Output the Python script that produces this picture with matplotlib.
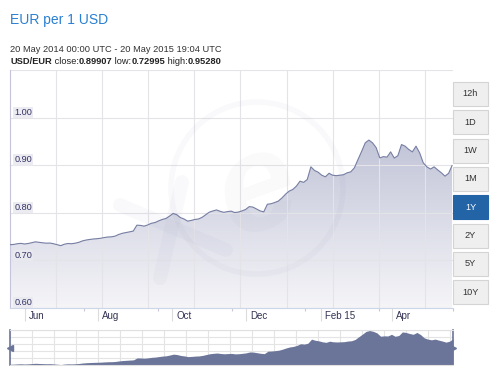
import numpy as np
import pandas as pd
import matplotlib
matplotlib.use('Agg')
import matplotlib.pyplot as plt
import matplotlib.dates as mdates
from matplotlib.colors import LinearSegmentedColormap
from matplotlib.patches import Rectangle, Circle

plt.rcParams['font.family'] = ['Liberation Sans', 'DejaVu Sans']

# USD/EUR rate, read every 3 days from 20 May 2014, last point is the close
rate = [0.7330, 0.7335, 0.7350, 0.7358, 0.7345, 0.7355, 0.7372, 0.7390, 0.7380, 0.7370,
        0.7362, 0.7365, 0.7350, 0.7330, 0.7310, 0.7340, 0.7355, 0.7350, 0.7362, 0.7380,
        0.7410, 0.7428, 0.7440, 0.7450, 0.7456, 0.7465, 0.7480, 0.7492, 0.7495, 0.7510,
        0.7545, 0.7570, 0.7585, 0.7600, 0.7616, 0.7740, 0.7735, 0.7720, 0.7745, 0.7780,
        0.7795, 0.7830, 0.7860, 0.7880, 0.7930, 0.7986, 0.7960, 0.7900, 0.7870, 0.7825,
        0.7840, 0.7860, 0.7870, 0.7905, 0.7960, 0.8014, 0.8040, 0.8060, 0.8030, 0.8010,
        0.8025, 0.8035, 0.8005, 0.8015, 0.8040, 0.8070, 0.8130, 0.8120, 0.8080, 0.8040,
        0.8020, 0.8180, 0.8190, 0.8215, 0.8245, 0.8310, 0.8390, 0.8455, 0.8490, 0.8560,
        0.8664, 0.8640, 0.8700, 0.8965, 0.8890, 0.8853, 0.8790, 0.8756, 0.8830, 0.8790,
        0.8780, 0.8790, 0.8800, 0.8840, 0.8860, 0.8945, 0.9120, 0.9290, 0.9470, 0.9528,
        0.9470, 0.9370, 0.9154, 0.9180, 0.9170, 0.9280, 0.9150, 0.9200, 0.9434, 0.9400,
        0.9330, 0.9280, 0.9400, 0.9260, 0.9050, 0.8965, 0.8920, 0.8965, 0.8900, 0.8840,
        0.8770, 0.8830, 0.8991]
dates = list(pd.date_range('2014-05-20', periods=len(rate) - 1, freq='3D')) + [pd.Timestamp('2015-05-20 19:04')]

y_labels = ['0.60', '0.70', '0.80', '0.90', '1.00']
month_labels = ['Jun', 'Aug', 'Oct', 'Dec', 'Feb 15', 'Apr']
month_dates = ['2014-06-01', '2014-08-01', '2014-10-01', '2014-12-01', '2015-02-01', '2015-04-01']
buttons = ['12h', '1D', '1W', '1M', '1Y', '2Y', '5Y', '10Y']
selected = '1Y'

W, H = 498, 377
fig = plt.figure(figsize=(W / 100, H / 100), dpi=100)

def box(l, t, r, b):
    return [l / W, 1 - b / H, (r - l) / W, (b - t) / H]

x = mdates.date2num(dates)
span = x[-1] - x[0]

# header
fig.text(10 / W, 1 - 20 / H, 'EUR per 1 USD', fontsize=10, color='#2a80d2', va='center')
fig.text(10 / W, 1 - 49 / H, '20 May 2014 00:00 UTC - 20 May 2015 19:04 UTC',
         fontsize=6.7, color='#333333', va='center')
parts = [('USD/EUR', 'bold'), (' close:', 'normal'), ('0.89907', 'bold'), (' low:', 'normal'),
         ('0.72995', 'bold'), (' high:', 'normal'), ('0.95280', 'bold')]
r = fig.canvas.get_renderer()
xp = 10
for s, w in parts:
    t = fig.text(xp / W, 1 - 62 / H, s, fontsize=6.7, fontweight=w, color='#222222', va='center')
    xp += t.get_window_extent(renderer=r).width

# main chart
ax = fig.add_axes(box(10, 70, 453, 308))
ax.set_xlim(x[0], x[-1])
ax.set_ylim(0.6, 1.1)
poly = ax.fill_between(x, rate, 0.6, facecolor='none', edgecolor='none')
cmap = LinearSegmentedColormap.from_list('g', ['#f5f5f8', '#c2c5d8'])
grad = np.linspace(1, 0, 256).reshape(-1, 1)
im = ax.imshow(grad, extent=[x[0], x[-1], 0.6, max(rate)], aspect='auto', cmap=cmap,
               vmin=0, vmax=1, zorder=1)
im.set_clip_path(poly.get_paths()[0], transform=ax.transData)
for v in np.arange(0.6, 1.11, 0.1):
    ax.axhline(v, color='#e4e4e8', lw=0.8, zorder=1.5)
for k in range(1, 10):
    ax.axvline(x[0] + k * span * 46.2 / 443, color='#e4e4e8', lw=0.8, zorder=1.5)
ax.plot(x, rate, color='#767ea3', lw=0.8, zorder=3)

for lab in y_labels:
    ax.annotate(lab, xy=(0, float(lab)), xycoords=('axes fraction', 'data'),
                xytext=(3, 3.8), textcoords='offset points', fontsize=6.6, color='#333366',
                va='center', ha='left', zorder=4,
                bbox=dict(boxstyle='square,pad=0.12', fc='#e9e9f0', ec='none', alpha=0.9))

mx = mdates.date2num(pd.to_datetime(month_dates))
ax.set_xticks(mx)
ax.set_xticks([x[0] + k * span * 74 / 443 for k in range(1, 7)], minor=True)
ax.tick_params(axis='x', which='major', length=9.5, color='#dcdcdc', width=0.8, labelbottom=False)
ax.tick_params(axis='x', which='minor', length=2.5, color='#c8c8d8', width=0.8)
ax.set_yticks([])
for m, lab in zip(mx, month_labels):
    ax.annotate(lab, xy=(m, 0), xycoords=('data', 'axes fraction'), xytext=(3, -6),
                textcoords='offset points', fontsize=7, color='#333355', va='center', ha='left',
                annotation_clip=False)
for s in ['top', 'right']:
    ax.spines[s].set_visible(False)
ax.spines['left'].set_color('#c4c4dc')
ax.spines['left'].set_linewidth(0.8)
ax.spines['bottom'].set_color('#ccd6eb')
ax.spines['bottom'].set_linewidth(0.8)

# navigator
lo, hi = 0.728, 0.956
nav = fig.add_axes(box(10, 330, 453, 365))
nav.set_xlim(x[0], x[-1])
nav.set_ylim(lo, hi)
nav.fill_between(x, rate, lo, color='#6b7599', lw=0, zorder=2)
nav.set_xticks(np.arange(x[0], x[-1], span * 22 / 443))
nav.set_yticks(np.linspace(lo, hi, 6))
nav.grid(True, color='#e4e4e4', lw=0.8)
nav.set_axisbelow(True)
nav.tick_params(length=0, labelbottom=False, labelleft=False)
for s in ['left', 'right']:
    nav.spines[s].set_color('#6b7599')
    nav.spines[s].set_linewidth(1.2)
for s in ['top', 'bottom']:
    nav.spines[s].set_color('#e0e0e0')
    nav.spines[s].set_linewidth(0.8)
mid = (lo + hi) / 2
nav.plot([x[0]], [mid], marker='<', color='#6b7599', ms=5, clip_on=False, zorder=5)
nav.plot([x[-1]], [mid], marker='>', color='#6b7599', ms=5, clip_on=False, zorder=5)

# overlay in pixel coordinates: watermark and range buttons
ov = fig.add_axes([0, 0, 1, 1])
ov.set_xlim(0, W)
ov.set_ylim(H, 0)
ov.axis('off')
wm = '#6a6a9a'
ov.add_patch(Circle((257, 188), 86, fill=False, lw=4, ec=wm, alpha=0.04))
ov.plot([120, 226], [205, 250], color=wm, lw=10, alpha=0.035, solid_capstyle='round')
ov.plot([182, 160], [182, 278], color=wm, lw=10, alpha=0.035, solid_capstyle='round')
ov.text(258, 192, 'e', fontsize=100, fontweight='bold', fontstyle='italic', color=wm,
        alpha=0.035, ha='center', va='center', rotation=20)

for i, b in enumerate(buttons):
    top = 82 + i * 28.3
    on = b == selected
    ov.add_patch(Rectangle((453, top), 35, 24, fc='#2264a6' if on else '#efefef',
                           ec='#2264a6' if on else '#d4d4d4', lw=0.8))
    ov.text(470.5, top + 12, b, fontsize=6.6, ha='center', va='center',
            color='white' if on else '#333333')

fig.savefig('out.png', dpi=100)
